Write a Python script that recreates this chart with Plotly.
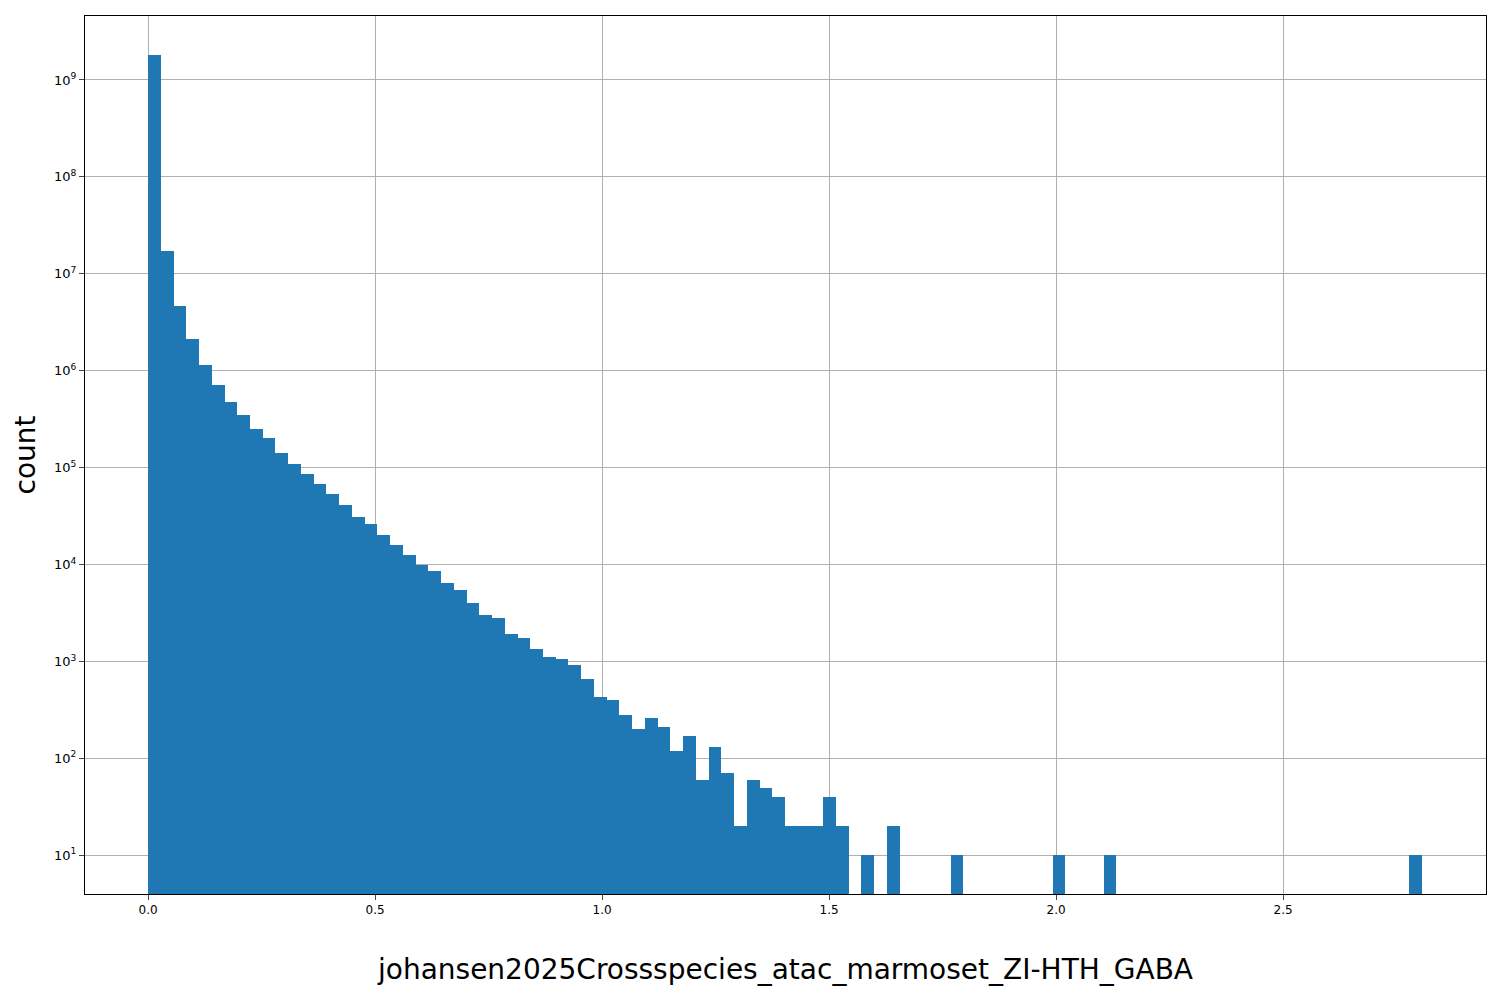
import numpy as np
import plotly.graph_objects as go

bin_width = 0.02806
n_bins = 100
counts = [1.8e9, 1.7e7, 4.7e6, 2.1e6, 1.15e6, 7.2e5, 4.8e5, 3.5e5, 2.5e5, 2.0e5,
          1.4e5, 1.1e5, 8.5e4, 6.7e4, 5.3e4, 4.1e4, 3.1e4, 2.6e4, 2.0e4, 1.6e4,
          1.25e4, 9.8e3, 8.6e3, 6.5e3, 5.5e3, 4.0e3, 3.0e3, 2.8e3, 1.9e3, 1.75e3,
          1.35e3, 1.1e3, 1.05e3, 920, 660, 430, 400, 280, 200, 260,
          210, 120, 170, 60, 130, 70, 20, 60, 50, 40,
          20, 20, 20, 40, 20, 0, 10, 0, 20]
sparse_bins = {63: 10, 71: 10, 75: 10, 99: 10}

full = counts + [0] * (n_bins - len(counts))
for k, v in sparse_bins.items():
    full[k] = v
centers = [(i + 0.5) * bin_width for i in range(n_bins)]
yvals = [c if c > 0 else None for c in full]

fig = go.Figure(go.Bar(x=centers, y=yvals, width=bin_width, marker_color="#1f77b4",
                       marker_line_width=0))

font = dict(family="DejaVu Sans", color="black")
fig.update_layout(
    width=1500, height=1000, plot_bgcolor="white", paper_bgcolor="white",
    margin=dict(l=77, r=22, t=8, b=114), font=font, showlegend=False, bargap=0,
)
fig.update_xaxes(range=[-0.139, 2.947], tickvals=[0, 0.5, 1, 1.5, 2, 2.5],
                 ticktext=["0.0", "0.5", "1.0", "1.5", "2.0", "2.5"],
                 showgrid=True, gridcolor="#b0b0b0", showline=True, linecolor="black",
                 mirror=True, ticks="outside", tickfont=dict(size=12),
                 title=dict(text="johansen2025Crossspecies_atac_marmoset_ZI-HTH_GABA",
                            font=dict(size=28), standoff=42), zeroline=False)
ticks = list(range(1, 10))
fig.update_yaxes(type="log", range=[0.6, 9.66], tickvals=[10 ** k for k in ticks],
                 ticktext=[f"10<sup>{k}</sup>" for k in ticks],
                 showgrid=True, gridcolor="#b0b0b0", showline=True, linecolor="black",
                 mirror=True, ticks="outside", tickfont=dict(size=13),
                 title=dict(text="count", font=dict(size=28), standoff=10))
fig.write_html("out.html")
